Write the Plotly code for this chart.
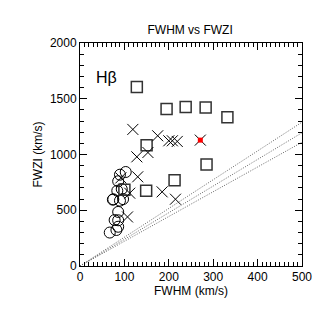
import plotly.graph_objects as go
import numpy as np

# circles (narrow lines)
circ_x = [67, 82, 86, 78, 86, 86, 75, 90, 84, 94, 86, 90, 103, 74, 97]
circ_y = [300, 323, 352, 412, 410, 485, 598, 586, 675, 690, 760, 819, 843, 595, 600]
# crosses
cross_x = [119, 175, 200, 208, 219, 128, 153, 130, 112, 185, 215, 107, 92]
cross_y = [1225, 1168, 1123, 1123, 1117, 979, 1018, 800, 653, 665, 599, 440, 790]
# squares
sq_x = [128, 195, 238, 283, 332, 150, 285, 213, 149, 100]
sq_y = [1605, 1407, 1425, 1422, 1335, 1084, 910, 770, 674, 683]
# highlighted point
red_x = [271]
red_y = [1129]
# reference ratios FWZI/FWHM
ratios = [2.58, 2.39, 2.22]
line_x = [0, 500]

fig = go.Figure()
for k in ratios:
    fig.add_trace(go.Scatter(x=line_x, y=[k * v for v in line_x], mode="lines",
                             line=dict(color="#666666", width=1, dash="1px,1.5px"), hoverinfo="skip"))
fig.add_trace(go.Scatter(x=circ_x, y=circ_y, mode="markers",
                         marker=dict(symbol="circle-open", size=11, color="black", line=dict(width=1))))
fig.add_trace(go.Scatter(x=sq_x, y=sq_y, mode="markers",
                         marker=dict(symbol="square-open", size=11, color="#333333", line=dict(width=1.5))))
fig.add_trace(go.Scatter(x=cross_x + red_x, y=cross_y + red_y, mode="markers",
                         marker=dict(symbol="x-thin-open", size=11, color="black", line=dict(width=1))))
fig.add_trace(go.Scatter(x=red_x, y=red_y, mode="markers",
                         marker=dict(symbol="square", size=5, color="red", line=dict(width=0))))

axis_common = dict(showgrid=False, zeroline=False, showline=True, linecolor="black", linewidth=1,
                   mirror="ticks", ticks="inside", ticklen=7, tickcolor="black", automargin=False,
                   tickfont=dict(size=12, color="black"))
fig.update_xaxes(range=[0, 500], dtick=100, title=dict(text="FWHM (km/s)", standoff=2, font=dict(size=12)),
                 minor=dict(dtick=10, ticks="inside", ticklen=4, tickcolor="black"), **axis_common)
fig.update_yaxes(range=[0, 2000], dtick=500, title=dict(text="FWZI (km/s)", standoff=4, font=dict(size=12)),
                 minor=dict(dtick=100, ticks="inside", ticklen=4, tickcolor="black"), **axis_common)
fig.add_annotation(x=60, y=1690, text="Hβ", showarrow=False, font=dict(size=16, color="black"))
fig.update_layout(
    width=327, height=327, showlegend=False,
    plot_bgcolor="white", paper_bgcolor="white",
    font=dict(family="Liberation Sans, Arial, sans-serif", color="black"),
    title=dict(text="FWHM vs FWZI", x=0.557, xanchor="center", y=0.933, yanchor="middle", font=dict(size=12)),
    margin=dict(l=72, r=33, t=35, b=69, autoexpand=False),
)
fig.write_html("out.html")
